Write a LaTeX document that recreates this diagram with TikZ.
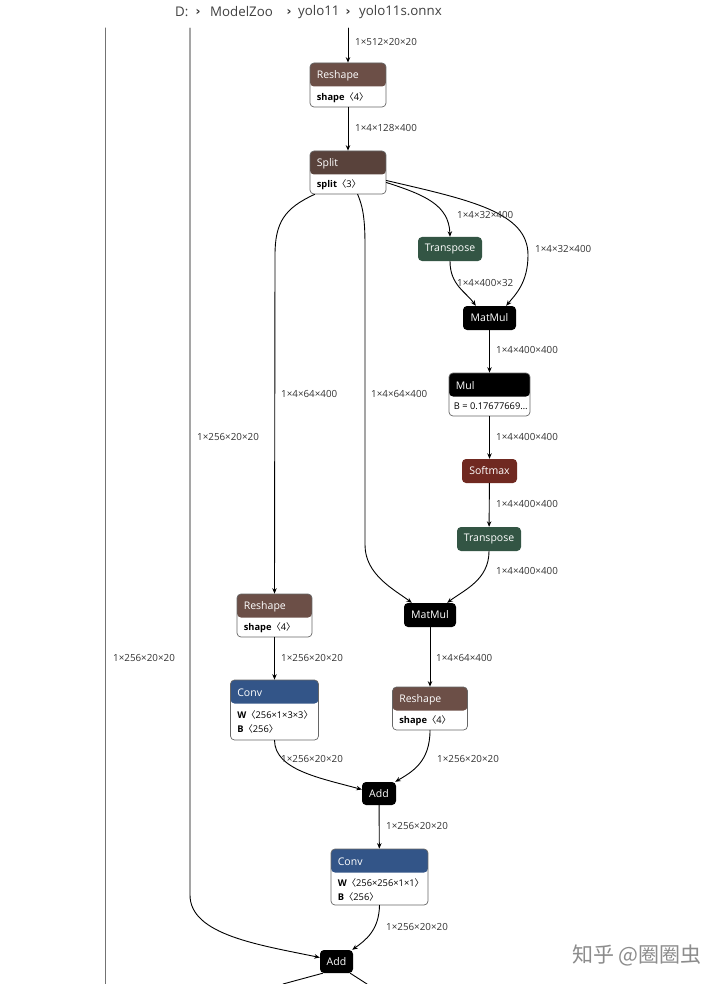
\documentclass[tikz,border=0pt]{standalone}
\usepackage{fontspec}
\setmainfont{Open Sans}
\newfontfamily\cjkfont{Noto Sans CJK SC}
\newfontfamily\symfont{DejaVu Sans}
\usetikzlibrary{arrows.meta}
\definecolor{shapecol}{RGB}{108,79,71}
\definecolor{tensorcol}{RGB}{89,66,59}
\definecolor{transcol}{RGB}{51,85,68}
\definecolor{layercol}{RGB}{51,85,136}
\definecolor{actcol}{RGB}{112,41,33}
\newcommand\ang[1]{{\cjkfont 〈}#1{\cjkfont 〉}}
\begin{document}
\begin{tikzpicture}[x=1pt,y=-1pt,line cap=round,line join=round,>={Stealth[length=5.5pt,width=4.5pt]},
    lbl/.style={anchor=west,font=\fontsize{9.8}{11}\selectfont,text=black!80,inner sep=0pt},
    hd/.style={anchor=west,font=\fontsize{10.5}{12}\selectfont,text=white,inner sep=0pt},
    bd/.style={anchor=west,font=\fontsize{9.3}{11}\selectfont,inner sep=0pt},
    crumb/.style={font=\fontsize{13.3}{15}\selectfont,text=black!75,inner sep=0pt},
    chev/.style={font=\symfont\bfseries\fontsize{12}{14}\selectfont,text=black!80,inner sep=0pt},
    op/.style={rounded corners=4pt,fill=#1,text=white,minimum height=24pt,inner sep=0pt,
      font=\fontsize{10.5}{12}\selectfont},
    card/.style={rounded corners=4pt,draw=black!60,line width=0.7pt,fill=white,inner sep=0pt,
      path picture={\fill[#1] (path picture bounding box.north west) rectangle
        ([yshift=-23.5pt]path picture bounding box.north east);}},
    edge/.style={->,line width=0.9pt}]
  \fill[white] (0,0) rectangle (722,984);
  \useasboundingbox (0,0) rectangle (722,984);

  % path bar
  \node[crumb,anchor=west] (drv) at (175,12) {D:};
  \node[chev] (chA) at (198,12) {›};
  \node[crumb,anchor=west] (zoo) at (210,12) {ModelZoo};
  \node[chev] (chB) at (289,12) {›};
  \node[crumb,anchor=west] (fam) at (298,12) {yolo11};
  \node[chev] (chC) at (348,12) {›};
  \node[crumb,anchor=west] (file) at (359,12) {yolo11s.onnx};

  % operators
  \node[card=shapecol,minimum width=76pt,minimum height=44pt] (reshA) at (348,85) {};
  \node[hd] (reshAh) at ([xshift=7pt,yshift=-13pt]reshA.north west) {Reshape};
  \node[bd] (reshAb) at ([xshift=7pt,yshift=-35pt]reshA.north west) {\textbf{shape}\ang{4}};

  \node[card=tensorcol,minimum width=76pt,minimum height=43pt] (split) at (348,172.5) {};
  \node[hd] (splith) at ([xshift=7pt,yshift=-13pt]split.north west) {Split};
  \node[bd] (splitb) at ([xshift=7pt,yshift=-34pt]split.north west) {\textbf{split}\ang{3}};

  \node[op=transcol,minimum width=64pt] (tpA) at (450,249) {Transpose};
  \node[op=black,minimum width=53pt] (mmA) at (489.5,318) {MatMul};

  \node[card=black,minimum width=81pt,minimum height=43pt] (mul) at (489.5,394.5) {};
  \node[hd] (mulh) at ([xshift=7pt,yshift=-13pt]mul.north west) {Mul};
  \node[bd] (mulb) at ([xshift=5pt,yshift=-34pt]mul.north west) {B = 0.17677669…};

  \node[op=actcol,minimum width=55pt] (smax) at (489.5,471) {Softmax};
  \node[op=transcol,minimum width=64pt] (tpB) at (489,539) {Transpose};
  \node[op=black,minimum width=52pt] (mmB) at (430,615) {MatMul};

  \node[card=shapecol,minimum width=75pt,minimum height=43pt] (reshB) at (274.5,615.5) {};
  \node[hd] (reshBh) at ([xshift=7pt,yshift=-13pt]reshB.north west) {Reshape};
  \node[bd] (reshBb) at ([xshift=7pt,yshift=-34pt]reshB.north west) {\textbf{shape}\ang{4}};

  \node[card=layercol,minimum width=88pt,minimum height=60pt] (convA) at (274.5,710) {};
  \node[hd] (convAh) at ([xshift=7pt,yshift=-13pt]convA.north west) {Conv};
  \node[bd] (convAw) at ([xshift=7pt,yshift=-35pt]convA.north west) {\textbf{W}\ang{256×1×3×3}};
  \node[bd] (convAb) at ([xshift=7pt,yshift=-49pt]convA.north west) {\textbf{B}\ang{256}};

  \node[card=shapecol,minimum width=75pt,minimum height=43pt] (reshC) at (430,708.5) {};
  \node[hd] (reshCh) at ([xshift=7pt,yshift=-13pt]reshC.north west) {Reshape};
  \node[bd] (reshCb) at ([xshift=7pt,yshift=-34pt]reshC.north west) {\textbf{shape}\ang{4}};

  \node[op=black,minimum width=34pt,minimum height=23pt] (addA) at (379,793.5) {Add};

  \node[card=layercol,minimum width=97pt,minimum height=56pt] (convB) at (379.5,877) {};
  \node[hd] (convBh) at ([xshift=7pt,yshift=-13pt]convB.north west) {Conv};
  \node[bd] (convBw) at ([xshift=7pt,yshift=-34pt]convB.north west) {\textbf{W}\ang{256×256×1×1}};
  \node[bd] (convBb) at ([xshift=7pt,yshift=-48pt]convB.north west) {\textbf{B}\ang{256}};

  \node[op=black,minimum width=33pt,minimum height=23pt] (addB) at (336.5,961.5) {Add};

  % loose ends
  \coordinate (inTop) at (348,28);
  \coordinate (skipA) at (105,28);
  \coordinate (skipAend) at (105,984);
  \coordinate (skipB) at (190,28);
  \coordinate (outA) at (283,984);
  \coordinate (outB) at (367,984);

  % edges
  \draw[line width=1pt,black!55] (skipA) -- (skipAend);
  \draw[edge] (inTop) -- (reshA);
  \draw[edge] (reshA) -- (split);
  \draw[edge] ([xshift=5pt]split.south west) .. controls (285,208) and (275,222) .. (275,255) -- (reshB.north);
  \draw[edge] ([xshift=48pt]split.south west) .. controls (362,205) and (365,215) .. (365,245)
    -- (365,545) .. controls (365,575) and (395,590) .. ([xshift=8pt]mmB.north west);
  \draw[edge] ([yshift=-10pt]split.east) .. controls (425,195) and (449,205) .. (tpA.north);
  \draw[edge] ([yshift=-8pt]split.east) .. controls (470,200) and (528,212) .. (528,255)
    .. controls (528,283) and (515,295) .. ([xshift=-10pt]mmA.north east);
  \draw[edge] (tpA.south) .. controls (450,285) and (466,292) .. ([xshift=13pt]mmA.north west);
  \draw[edge] (mmA) -- (mul);
  \draw[edge] (mul) -- (smax);
  \draw[edge] (smax) -- (tpB);
  \draw[edge] (tpB.south) .. controls (489,580) and (464,590) .. ([xshift=-9pt]mmB.north east);
  \draw[edge] (reshB) -- (convA);
  \draw[edge] (mmB) -- (reshC);
  \draw[edge] (convA.south) .. controls (275,770) and (320,778) .. ([yshift=4pt]addA.west);
  \draw[edge] (reshC.south) .. controls (430,762) and (412,772) .. ([xshift=-1pt]addA.north east);
  \draw[edge] (addA) -- (convB);
  \draw[edge] (convB.south) .. controls (379,930) and (366,940) .. ([xshift=-1pt]addB.north east);
  \draw[edge] (skipB) -- (190,895) .. controls (190,935) and (260,945) .. ([yshift=4pt]addB.west);
  \draw[line width=0.9pt] ([xshift=3pt]addB.south west) -- (outA);
  \draw[line width=0.9pt] ([xshift=-3pt]addB.south east) -- (outB);

  % tensor shapes
  \node[lbl] (tA) at (355,42) {1×512×20×20};
  \node[lbl] (tB) at (355,128) {1×4×128×400};
  \node[lbl] (tC) at (457,215) {1×4×32×400};
  \node[lbl] (tD) at (535,249) {1×4×32×400};
  \node[lbl] (tE) at (457,283) {1×4×400×32};
  \node[lbl] (tF) at (496,350) {1×4×400×400};
  \node[lbl] (tG) at (496,437) {1×4×400×400};
  \node[lbl] (tH) at (496,504) {1×4×400×400};
  \node[lbl] (tI) at (496,571) {1×4×400×400};
  \node[lbl] (tJ) at (281,394) {1×4×64×400};
  \node[lbl] (tK) at (371,394) {1×4×64×400};
  \node[lbl] (tL) at (197,437) {1×256×20×20};
  \node[lbl] (tM) at (113,658) {1×256×20×20};
  \node[lbl] (tN) at (281,658) {1×256×20×20};
  \node[lbl] (tO) at (436,658) {1×4×64×400};
  \node[lbl] (tP) at (281,759) {1×256×20×20};
  \node[lbl] (tQ) at (437,759) {1×256×20×20};
  \node[lbl] (tR) at (386,826) {1×256×20×20};
  \node[lbl] (tS) at (386,927) {1×256×20×20};

  % watermark
  \node[text=black!45,font=\cjkfont\fontsize{21}{24}\selectfont,inner sep=0pt] (mark) at (637,955) {知乎 @圈圈虫};
\end{tikzpicture}
\end{document}
